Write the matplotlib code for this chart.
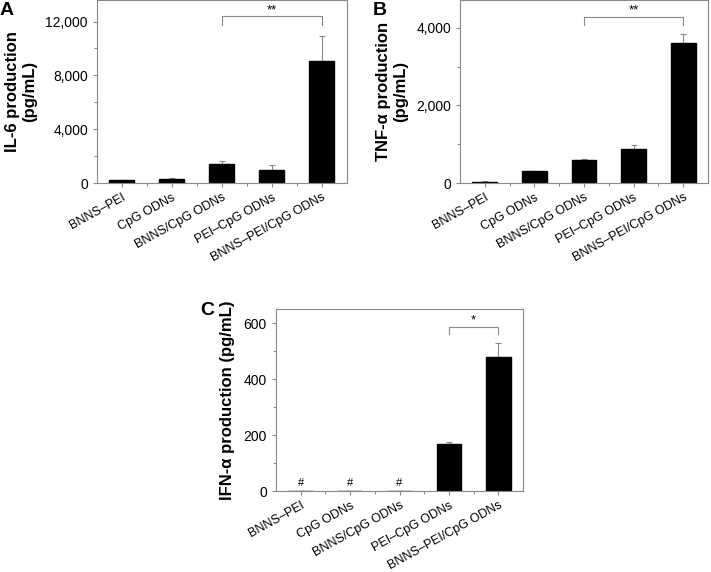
import numpy as np
import matplotlib.pyplot as plt
from matplotlib.ticker import MultipleLocator, FuncFormatter

groups = ["BNNS\u2013PEI", "CpG ODNs", "BNNS/CpG ODNs", "PEI\u2013CpG ODNs", "BNNS\u2013PEI/CpG ODNs"]

il6 = [200, 280, 1400, 1000, 9100]
il6_err = [60, 60, 250, 350, 1800]

tnf = [30, 300, 600, 880, 3600]
tnf_err = [10, 20, 20, 100, 250]

ifn = [0, 0, 0, 168, 480]
ifn_err = [0, 0, 0, 10, 50]

plt.rcParams['font.family'] = ['Liberation Sans', 'DejaVu Sans']
grey = "#8a8a8a"

fig = plt.figure(figsize=(7.11, 5.72), dpi=100)
axA = fig.add_axes([0.1364, 0.680, 0.3516, 0.320])
axB = fig.add_axes([0.647, 0.680, 0.3488, 0.320])
axC = fig.add_axes([0.3882, 0.141, 0.3474, 0.3180])

fmt = FuncFormatter(lambda v, p: "{:,}".format(int(v)))


def panel(ax, vals, errs, ylim, major, minor, ylabel, labx):
    x = np.arange(len(groups))
    ax.bar(x, vals, width=0.5, color="black", edgecolor="black", zorder=2)
    ax.errorbar(x, vals, yerr=[np.zeros(len(errs)), errs], fmt="none",
                ecolor=grey, elinewidth=0.8, capsize=2, capthick=0.8, zorder=1)
    ax.set_xlim(-0.5, len(groups) - 0.5)
    ax.set_ylim(0, ylim)
    ax.yaxis.set_major_locator(MultipleLocator(major))
    ax.yaxis.set_minor_locator(MultipleLocator(minor))
    ax.yaxis.set_major_formatter(fmt)
    ax.set_xticks(x)
    ax.set_xticks(x[:-1] + 0.5, minor=True)
    ax.set_xticklabels(groups, rotation=29, ha="right", rotation_mode="anchor", fontsize=9)
    ax.tick_params(axis="y", labelsize=10)
    ax.tick_params(axis="x", which="major", pad=3)
    ax.tick_params(which="major", direction="out", length=3, color=grey, width=0.8)
    ax.tick_params(which="minor", direction="out", length=2, color=grey, width=0.8)
    for s in ax.spines.values():
        s.set_color(grey)
        s.set_linewidth(0.8)
    ax.set_ylabel(ylabel, fontsize=12, fontweight="bold", linespacing=1.15)
    ax.yaxis.set_label_coords(labx, 0.5)


def bracket(ax, x1, x2, y, y0, label):
    ax.plot([x1, x1, x2, x2], [y0, y, y, y0], color=grey, lw=0.8, clip_on=False)
    ax.text((x1 + x2) / 2, y, label, ha="center", va="bottom", fontsize=9.5)


panel(axA, il6, il6_err, 13600, 4000, 2000, "IL-6 production\n(pg/mL)", -0.24)
panel(axB, tnf, tnf_err, 4720, 2000, 1000, "TNF-\u03b1 production\n(pg/mL)", -0.21)
panel(axC, ifn, ifn_err, 650, 200, 100, "IFN-\u03b1 production (pg/mL)", -0.166)

bracket(axA, 2, 4, 12410, 11740, "**")
bracket(axB, 2, 4, 4284, 4077, "**")
bracket(axC, 3, 4, 589, 564, "*")

for i in range(3):
    axC.text(i, 12, "#", ha="center", va="bottom", fontsize=8)

fig.text(0.0, 0.9965, "A", fontsize=14, fontweight="bold", va="top")
fig.text(0.5246, 0.9965, "B", fontsize=14, fontweight="bold", va="top")
fig.text(0.281, 0.472, "C", fontsize=14, fontweight="bold", va="top")

fig.savefig("out.png", dpi=100)
